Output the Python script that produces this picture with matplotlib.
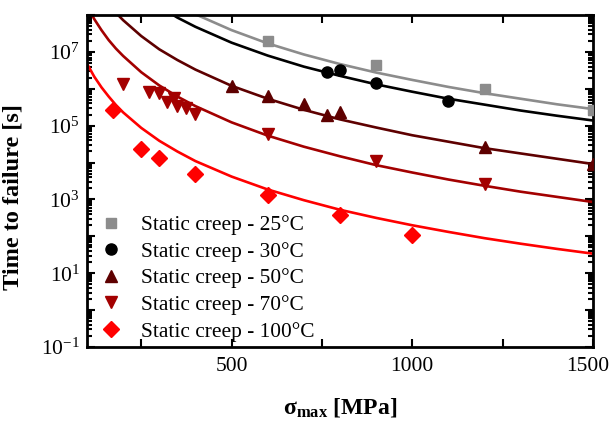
import numpy as np
import matplotlib
matplotlib.use("Agg")
import matplotlib.pyplot as plt
from matplotlib.ticker import LogLocator, MultipleLocator, FuncFormatter, NullFormatter

plt.rcParams['font.family'] = ['Liberation Serif', 'DejaVu Serif']
plt.rcParams['mathtext.fontset'] = 'custom'
plt.rcParams['mathtext.rm'] = 'Liberation Serif'
plt.rcParams['mathtext.it'] = 'Liberation Serif:italic'
plt.rcParams['mathtext.bf'] = 'Liberation Serif:bold'

# ---- measured data ----
sigma_25 = [600, 900, 1200, 1500]
t_25 = [2.0e7, 4.5e6, 1.0e6, 2.7e5]

sigma_30 = [765, 800, 900, 1100]
t_30 = [2.9e6, 3.3e6, 1.4e6, 4.8e5]

sigma_50 = [500, 600, 700, 765, 800, 1200, 1500]
t_50 = [1.2e6, 6.5e5, 3.9e5, 1.9e5, 2.4e5, 2.7e4, 9.0e3]

sigma_70 = [200, 272, 300, 320, 340, 350, 375, 400, 600, 900, 1200]
t_70 = [1.35e6, 8.0e5, 7.6e5, 4.3e5, 5.7e5, 3.5e5, 3.0e5, 2.1e5, 6.0e4, 1.1e4, 2.6e3]

sigma_100 = [172, 250, 300, 400, 600, 800, 1000]
t_100 = [2.6e5, 2.3e4, 1.3e4, 4.9e3, 1.3e3, 3.9e2, 1.1e2]

# ---- model curves (log10 of time) ----
curve_sigma_lo = [100, 120, 140, 160, 180, 200, 250, 300, 350, 400, 500, 600, 700,
                  800, 900, 1000, 1100, 1200, 1300, 1400, 1500]
curve_log_100 = [6.68, 6.33, 6.04, 5.79, 5.56, 5.36, 4.94, 4.59, 4.30, 4.04, 3.62, 3.27, 2.98,
                 2.72, 2.50, 2.30, 2.12, 1.95, 1.80, 1.66, 1.53]
curve_log_70 = [8.25, 7.89, 7.59, 7.32, 7.09, 6.89, 6.45, 6.09, 5.79, 5.53, 5.09, 4.73, 4.43,
                4.17, 3.93, 3.73, 3.54, 3.37, 3.21, 3.07, 2.93]
curve_sigma_50 = [160, 180, 200, 250, 300, 350, 400, 500, 600, 700, 800, 900, 1000, 1200, 1500]
curve_log_50 = [8.29, 8.06, 7.86, 7.43, 7.07, 6.78, 6.52, 6.08, 5.73, 5.43, 5.17, 4.95, 4.74, 4.39, 3.96]
curve_sigma_hi = [300, 350, 400, 500, 600, 700, 800, 900, 1000, 1100, 1200, 1300, 1400, 1500]
curve_log_30 = [8.23, 7.93, 7.68, 7.25, 6.90, 6.60, 6.35, 6.12, 5.92, 5.73, 5.57, 5.41, 5.27, 5.14]
curve_log_25 = [8.60, 8.28, 8.02, 7.59, 7.23, 6.93, 6.67, 6.44, 6.24, 6.05, 5.88, 5.73, 5.58, 5.45]

x_tick_labels = [500, 1000, 1500]

labels = ['Static creep - 25°C', 'Static creep - 30°C', 'Static creep - 50°C',
          'Static creep - 70°C', 'Static creep - 100°C']
colors = ['#8c8c8c', '#000000', '#5e0000', '#a30000', '#ff0000']
markers = ['s', 'o', '^', 'v', 'D']
msizes = [7, 8, 9, 9, 8]

fig = plt.figure(figsize=(6.13, 4.21), dpi=100)
ax = fig.add_axes([87/613, 1-347/421, (593-87)/613, (347-15)/421])

lw = 1.9
ax.plot(curve_sigma_hi, np.power(10.0, curve_log_25), color=colors[0], lw=lw)
ax.plot(curve_sigma_hi, np.power(10.0, curve_log_30), color=colors[1], lw=lw)
ax.plot(curve_sigma_50, np.power(10.0, curve_log_50), color=colors[2], lw=lw)
ax.plot(curve_sigma_lo, np.power(10.0, curve_log_70), color=colors[3], lw=lw)
ax.plot(curve_sigma_lo, np.power(10.0, curve_log_100), color=colors[4], lw=lw)

series = [(sigma_25, t_25), (sigma_30, t_30), (sigma_50, t_50), (sigma_70, t_70), (sigma_100, t_100)]
for (sx, ty), lab, c, m, ms in zip(series, labels, colors, markers, msizes):
    ax.plot(sx, ty, linestyle='none', marker=m, color=c, markersize=ms, label=lab, zorder=3)

ax.set_yscale('log')
ax.set_xlim(100, 1500)
ax.set_ylim(1e-1, 1e8)

ax.xaxis.set_major_locator(MultipleLocator(250))
ax.xaxis.set_major_formatter(FuncFormatter(lambda v, p: ""))
tick_fs = 15.5
for v in x_tick_labels:
    off = -4 if v == x_tick_labels[-1] else 0
    ax.annotate(f"{v}", xy=(v, 0), xycoords=('data', 'axes fraction'),
                xytext=(off, -7), textcoords='offset points',
                ha='center', va='top', fontsize=tick_fs)

def yfmt(v, p):
    e = int(round(np.log10(v)))
    if e % 2 != 0:
        return r"$\mathregular{10^{%d}}$" % e
    return ""

ax.yaxis.set_major_locator(LogLocator(base=10, numticks=20))
ax.yaxis.set_major_formatter(FuncFormatter(yfmt))
ax.yaxis.set_minor_locator(LogLocator(base=10, subs=np.arange(2, 10), numticks=100))
ax.yaxis.set_minor_formatter(NullFormatter())

ax.tick_params(which='both', direction='in', top=True, right=True, width=1.5, labelsize=tick_fs)
ax.tick_params(which='major', length=6)
ax.tick_params(axis='y', which='major', pad=5)
ax.tick_params(which='minor', length=3.5)
for s in ax.spines.values():
    s.set_linewidth(2.0)

ax.set_xlabel(r"$\mathbf{σ_{max}}$ [MPa]", fontsize=17, fontweight='bold')
ax.xaxis.set_label_coords(0.5, -0.148)
ax.set_ylabel("Time to failure [s]", fontsize=17.5, fontweight='bold')
ax.yaxis.set_label_coords(-0.125, 0.452)

ax.legend(loc='lower left', frameon=False, fontsize=15.4, handletextpad=0.8,
          labelspacing=0.31, borderaxespad=0.0, borderpad=0.3,
          bbox_to_anchor=(0.01, -0.003), handlelength=1.2)

fig.savefig("out.png", dpi=100)
